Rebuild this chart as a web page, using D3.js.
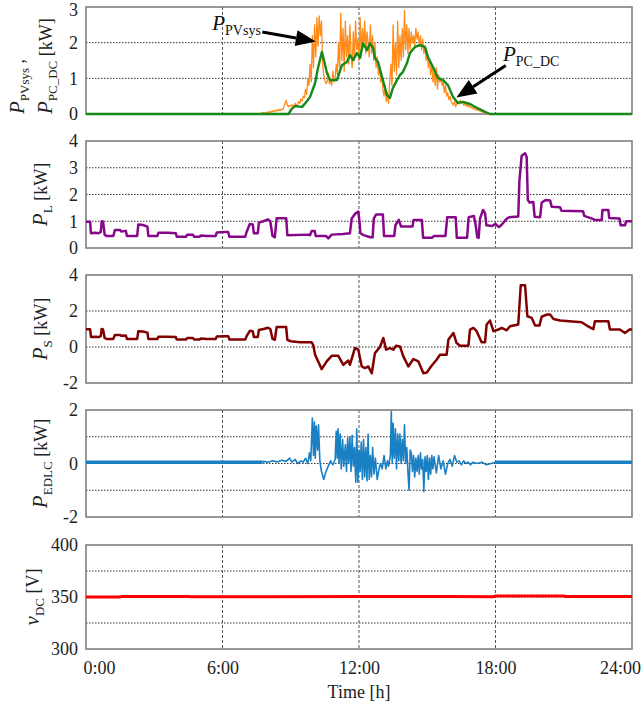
<!DOCTYPE html>
<html>
<head>
<meta charset="utf-8">
<script src="https://cdn.jsdelivr.net/npm/d3@7"></script>
<style>
  body { margin: 0; background: #fff; }
  svg { display: block; font-family: "Liberation Serif", "Times New Roman", serif; }
</style>
</head>
<body>
<div id="chart"></div>
<script>
// ---- data ----
const hourTicks = [0, 6, 12, 18, 24];

// P_PVsys : evenly sampled every 0.05 h starting at 7.6 h
const pvStart = 7.6, pvStep = 0.05;
const pvValues = [
  0,0.01,0.03,0.02,0.04,0.02,0.05,0.03,0.06,0.04,
  0.07,0.05,0.09,0.06,0.1,0.08,0.12,0.09,0.13,0.1,
  0.14,0.12,0.2,0.3,0.38,0.25,0.2,0.24,0.22,0.26,
  0.2,0.25,0.3,0.22,0.27,0.35,0.3,0.42,0.36,0.5,
  0.45,0.7,0.55,1.0,0.8,1.4,0.9,2.2,1.3,2.5,
  1.6,2.7,1.9,2.75,2.2,2.6,1.4,1.1,0.95,0.85,
  0.9,1.15,0.85,0.95,0.8,1.2,0.9,1.0,1.4,1.1,
  2.0,1.3,2.83,1.5,2.4,1.2,2.6,1.6,2.2,1.4,
  2.5,1.7,1.3,2.3,1.5,2.6,1.8,2.1,1.5,2.7,
  1.6,2.4,1.9,2.6,1.7,2.3,2.0,1.6,2.5,1.7,
  2.2,1.5,2.0,1.3,1.6,1.1,1.3,0.9,1.1,0.7,
  0.5,0.8,0.35,0.6,0.3,0.9,1.4,0.8,2.5,1.2,
  2.0,1.1,2.6,1.3,2.2,1.5,2.4,1.6,2.9,1.8,
  2.5,1.7,2.4,1.8,2.3,2.0,2.2,1.9,2.4,2.1,
  2.3,1.9,2.2,1.8,2.1,1.7,1.9,1.5,1.7,1.3,
  1.5,1.1,1.4,0.9,1.2,0.8,1.3,0.7,1.1,0.9,
  1.0,0.8,0.9,0.6,0.8,0.5,0.6,0.4,0.5,0.35,
  0.3,0.25,0.35,0.2,0.3,0.35,0.28,0.38,0.3,0.33,
  0.25,0.3,0.22,0.28,0.2,0.25,0.18,0.2,0.15,0.17,
  0.12,0.14,0.1,0.11,0.08,0.09,0.06,0.05,0.04,0.02,
  0.01,0,0
];

// P_PC_DC
const pcTime = [0,8.9,9.05,9.2,9.5,9.7,9.85,10.07,10.2,10.37,10.5,10.59,10.73,11.03,11.25,11.47,11.6,11.74,11.91,12.04,12.18,12.35,12.48,12.62,12.7,12.84,13.01,13.23,13.36,13.49,13.67,13.8,13.93,14.11,14.24,14.46,14.68,14.9,15.03,15.25,15.47,15.69,15.91,16.13,16.35,16.57,16.88,17.19,17.54,17.76,24];
const pcValue = [0,0,0.15,0.22,0.2,0.35,0.48,0.87,1.3,1.74,1.4,1.15,0.95,0.95,1.37,1.46,1.65,1.51,1.71,1.57,1.98,1.79,1.98,1.85,1.57,1.46,1.04,0.53,0.45,0.73,0.95,1.09,1.18,1.43,1.71,1.88,1.93,1.88,1.6,1.32,1.01,0.95,0.81,0.48,0.31,0.34,0.28,0.17,0.06,0,0];

// P_L
const loadTime = [0,0.18,0.22,0.4,0.55,0.65,0.69,0.75,0.82,0.9,1.2,1.27,1.5,1.55,1.75,1.8,2.25,2.3,2.5,2.7,2.74,3.14,3.18,3.6,3.95,3.99,4.4,4.45,4.7,4.75,5.0,5.05,5.3,5.7,5.75,6.1,6.25,6.3,7.0,7.06,7.2,7.33,7.38,7.55,7.6,7.8,8.0,8.1,8.2,8.3,8.38,8.8,8.85,9.8,9.85,9.92,10.05,10.1,10.55,10.65,10.8,11.3,11.6,11.68,11.85,11.97,12.02,12.06,12.2,12.5,12.6,12.65,12.75,13.05,13.1,13.55,13.6,13.75,13.85,14.35,14.4,14.76,14.82,15.2,15.3,15.8,15.88,16.25,16.3,16.75,16.82,17.05,17.12,17.2,17.26,17.32,17.45,17.54,17.6,17.85,18.0,18.15,18.25,18.5,18.6,19.0,19.05,19.15,19.3,19.37,19.42,19.5,19.66,19.72,19.96,20.03,20.2,20.4,20.47,20.84,20.9,21.85,21.9,22.3,22.35,22.67,22.7,22.96,23.0,23.45,23.5,23.69,23.75,24];
const loadValue = [0.98,0.98,0.55,0.57,0.55,0.6,1.0,0.98,0.5,0.45,0.45,0.67,0.67,0.62,0.64,0.45,0.45,0.88,0.86,0.8,0.45,0.45,0.57,0.57,0.55,0.42,0.42,0.5,0.5,0.42,0.42,0.47,0.45,0.45,0.58,0.6,0.6,0.42,0.42,0.6,0.9,0.88,0.55,0.55,0.95,1.0,1.07,1.0,0.45,0.4,1.11,1.11,0.48,0.5,0.48,0.64,0.64,0.45,0.45,0.36,0.5,0.52,0.55,1.1,1.3,1.36,1.0,0.55,0.48,0.4,0.4,1.1,1.25,1.25,0.45,0.45,0.85,1.05,0.8,0.8,1.05,1.05,0.38,0.38,0.45,0.45,1.15,1.15,0.38,0.38,1.15,1.2,0.9,0.4,0.38,1.1,1.42,1.3,0.85,0.82,0.9,0.78,0.85,1.1,1.15,1.18,2.5,3.45,3.54,3.4,1.8,1.7,1.72,1.17,1.15,1.7,1.79,1.78,1.54,1.52,1.39,1.37,1.2,1.08,1.05,1.05,1.42,1.42,1.12,1.1,0.85,0.85,1.0,1.0];

// P_S
const storTime = [0,0.18,0.22,0.4,0.55,0.65,0.69,0.75,0.82,0.9,1.2,1.27,1.5,1.55,1.75,1.8,2.25,2.3,2.5,2.7,2.74,3.14,3.18,3.6,3.95,3.99,4.4,4.45,4.7,4.75,5.0,5.05,5.3,5.7,5.75,6.1,6.25,6.3,7.0,7.06,7.2,7.33,7.38,7.55,7.6,7.8,8.0,8.1,8.2,8.3,8.38,8.8,8.85,9.0,9.41,9.92,9.99,10.07,10.36,10.58,10.8,11.09,11.31,11.53,11.6,11.82,11.97,12.12,12.26,12.41,12.56,12.7,12.92,13.07,13.19,13.36,13.51,13.63,13.8,13.95,14.17,14.39,14.61,14.83,14.98,15.19,15.41,15.56,15.85,15.93,16.15,16.29,16.44,16.81,16.88,17.03,17.17,17.39,17.54,17.61,17.76,17.91,18.13,18.27,18.49,18.64,19.0,19.11,19.3,19.4,19.59,19.74,19.93,20.03,20.25,20.4,20.55,20.84,21.79,22.01,22.3,22.37,22.96,23.03,23.47,23.69,23.91,24];
const storValue = [0.98,0.98,0.55,0.57,0.55,0.6,1.0,0.98,0.5,0.45,0.45,0.67,0.67,0.62,0.64,0.45,0.45,0.88,0.86,0.8,0.45,0.45,0.57,0.57,0.55,0.42,0.42,0.5,0.5,0.42,0.42,0.47,0.45,0.45,0.58,0.6,0.6,0.42,0.42,0.6,0.9,0.88,0.55,0.55,0.95,1.0,1.07,1.0,0.45,0.4,1.11,1.11,0.4,0.32,0.26,0.26,0.1,-0.43,-1.23,-0.8,-0.49,-0.49,-0.99,-0.75,-0.99,-0.06,-0.15,-1.08,-1.17,-1.08,-1.46,-0.34,0.0,0.5,-0.15,-0.06,-0.15,0.07,0.03,-0.52,-1.08,-0.67,-0.8,-1.46,-1.42,-1.04,-0.71,-0.43,-0.43,0.41,0.78,0.22,0.07,0.07,0.97,1.06,0.88,0.26,0.26,1.25,1.47,0.88,0.97,1.06,0.93,1.15,1.25,3.43,3.43,1.71,1.62,1.19,1.19,1.68,1.8,1.8,1.56,1.47,1.38,1.19,0.99,1.43,1.43,0.97,0.97,0.78,0.99,0.95];

// P_EDLC
const edlcTime = [0,7.75,7.8,8.0,8.2,8.4,8.6,8.8,8.95,9.05,9.2,9.3,9.45,9.55,9.65,9.75,9.82,9.88,9.95,10.0,10.04,10.08,10.12,10.18,10.22,10.28,10.35,10.45,10.55,10.65,10.75,10.85,10.95,11.0,11.04,11.08,11.12,11.17,11.22,11.28,11.33,11.4,11.45,11.5,11.55,11.6,11.65,11.7,11.75,11.8,11.86,11.9,11.95,12.0,12.05,12.1,12.15,12.2,12.25,12.3,12.35,12.4,12.45,12.5,12.55,12.6,12.66,12.72,12.8,12.88,12.95,13.02,13.1,13.18,13.25,13.3,13.38,13.42,13.46,13.5,13.55,13.6,13.65,13.7,13.75,13.8,13.85,13.9,13.95,14.0,14.05,14.1,14.15,14.2,14.25,14.3,14.35,14.4,14.45,14.5,14.55,14.6,14.65,14.7,14.75,14.8,14.85,14.9,14.95,15.0,15.05,15.1,15.15,15.2,15.25,15.3,15.4,15.5,15.6,15.7,15.8,15.9,16.0,16.1,16.2,16.3,16.4,16.5,16.6,16.7,16.8,16.9,17.0,17.2,17.4,17.6,17.8,18.0,24];
const edlcValue = [0.05,0.05,0.08,0.05,0.1,0.06,0.12,0.08,0.2,0.05,0.15,0.0,0.1,0.05,0.2,0.0,0.4,0.1,1.7,0.3,1.55,0.2,1.4,0.5,1.45,0.1,-0.3,-0.6,-0.3,-0.1,0.1,-0.05,0.15,1.2,0.2,1.3,0.0,1.1,-0.2,0.9,-0.1,0.7,-0.3,0.95,0.0,1.0,-0.3,1.05,-0.1,0.6,-0.7,1.3,-0.7,0.5,-0.3,0.8,-0.6,0.9,-0.5,0.6,-0.65,1.1,-0.6,0.3,-0.5,0.6,-0.4,0.2,-0.6,-0.2,0.0,-0.2,0.3,-0.2,0.1,-0.1,0.3,1.95,0.0,1.5,0.2,1.3,-0.2,1.1,0.1,1.1,0.0,0.9,0.1,1.45,0.0,0.6,-0.3,-1.0,0.5,0.4,-0.3,0.3,-0.5,0.2,-0.3,0.3,-0.4,0.4,-0.2,0.15,-1.05,0.25,-0.3,0.3,-0.6,0.2,-0.4,0.3,-0.2,0.25,-0.35,0.3,-0.2,0.1,-0.4,0.0,0.15,-0.1,0.3,0.05,0.1,-0.05,0.1,0.0,0.05,-0.05,0.05,0.0,0.05,-0.05,0.0,0.05,0.05];

// v_DC
const vdcTime = [0,1.5,1.55,4.5,4.6,6,8,12,14,16,17.9,18.0,21,21.1,24];
const vdcValue = [350,350,350.4,350.5,350.2,350.2,350.3,350.4,350.5,350.4,350.3,350.9,350.9,350.4,350.4];

// ---- layout ----
const W = 642, H = 705;
const left = 86, right = 632;
const font = "Liberation Serif";

const svg = d3.select("#chart").append("svg")
  .attr("width", W).attr("height", H);

const x = d3.scaleLinear().domain([0, 24]).range([left, right]);

const zip = (t, v) => t.map((d, i) => ({ t: d, v: v[i] }));
const pvData = pvValues.map((v, i) => ({ t: pvStart + i * pvStep, v: v }));

const panels = [
  { top: 7, bottom: 114, domain: [0, 3], ticks: [0, 1, 2, 3], grid: [1, 2],
    series: [
      { data: pvData, color: "#ff8c1a", width: 1.3 },
      { data: zip(pcTime, pcValue), color: "#16891a", width: 2.4 }
    ] },
  { top: 141, bottom: 248, domain: [0, 4], ticks: [0, 1, 2, 3, 4], grid: [1, 2, 3],
    label: [["P", "i"], ["L", "s"], [" [kW]", "n"]], labelX: 47,
    series: [{ data: zip(loadTime, loadValue), color: "#87078a", width: 2.5 }] },
  { top: 275, bottom: 383, domain: [-2, 4], ticks: [-2, 0, 2, 4], grid: [0, 2],
    label: [["P", "i"], ["S", "s"], [" [kW]", "n"]], labelX: 47,
    series: [{ data: zip(storTime, storValue), color: "#800000", width: 2.5 }] },
  { top: 410, bottom: 517, domain: [-2, 2], ticks: [-2, 0, 2], grid: [-1, 0, 1],
    label: [["P", "i"], ["EDLC", "s"], [" [kW]", "n"]], labelX: 47,
    series: [
      { data: zip(edlcTime, edlcValue), color: "#1a80c4", width: 1.6 },
      { data: zip(edlcTime, edlcValue).filter(d => d.t <= 7.75), color: "#1a80c4", width: 3.5 },
      { data: zip(edlcTime, edlcValue).filter(d => d.t >= 18), color: "#1a80c4", width: 3.5 }
    ] },
  { top: 545, bottom: 649, domain: [300, 400], ticks: [300, 350, 400], grid: [325, 350, 375],
    label: [["v", "i"], ["DC", "s"], [" [V]", "n"]], labelX: 39,
    series: [{ data: zip(vdcTime, vdcValue), color: "#ff0000", width: 3 }] }
];

// rich label helper: parts = [[text, kind]] kind: i italic, s subscript, n normal
function richText(sel, parts, big, small, normal) {
  let shifted = false;
  parts.forEach(p => {
    const ts = sel.append("tspan").text(p[0]);
    if (p[1] === "i") ts.attr("font-style", "italic").attr("font-size", big);
    if (p[1] === "n") ts.attr("font-size", normal);
    if (p[1] === "s") { ts.attr("font-size", small).attr("dy", 5); shifted = true; }
    else if (shifted) { ts.attr("dy", -5); shifted = false; }
  });
}

panels.forEach((p, k) => {
  const y = d3.scaleLinear().domain(p.domain).range([p.bottom, p.top]);
  const g = svg.append("g");

  // grid
  g.selectAll(".hg").data(p.grid).enter().append("line")
    .attr("x1", left).attr("x2", right)
    .attr("y1", d => y(d)).attr("y2", d => y(d))
    .attr("stroke", "#333").attr("stroke-width", 1).attr("stroke-dasharray", "1.5,1.5");
  g.selectAll(".vg").data([6, 12, 18]).enter().append("line")
    .attr("x1", d => x(d)).attr("x2", d => x(d))
    .attr("y1", p.top).attr("y2", p.bottom)
    .attr("stroke", "#555").attr("stroke-width", 1).attr("stroke-dasharray", "3,2");

  // frame
  g.append("rect")
    .attr("x", left).attr("y", p.top)
    .attr("width", right - left).attr("height", p.bottom - p.top)
    .attr("fill", "none").attr("stroke", "#777").attr("stroke-width", 1.5);

  // y axis labels
  const ax = g.append("g").attr("transform", "translate(" + left + ",0)")
    .call(d3.axisLeft(y).tickValues(p.ticks).tickSize(0).tickPadding(8)
      .tickFormat(d => String(d)));
  ax.select(".domain").remove();
  ax.selectAll("text").attr("font-family", font).attr("font-size", 18).attr("fill", "#222");
  if (k === 0) ax.selectAll("text").filter(d => d === 3).attr("dy", "0.45em");

  // series
  const line = d3.line().x(d => x(d.t)).y(d => y(d.v));
  p.series.forEach(s => {
    g.append("path").datum(s.data)
      .attr("d", line)
      .attr("fill", "none")
      .attr("stroke", s.color)
      .attr("stroke-width", s.width)
      .attr("stroke-linejoin", "round");
  });

  // y title
  if (p.label) {
    const t = g.append("text")
      .attr("transform", "rotate(-90)")
      .attr("x", -(p.top + p.bottom) / 2)
      .attr("y", p.labelX)
      .attr("text-anchor", "middle")
      .attr("font-family", font).attr("fill", "#222");
    richText(t, p.label, 21, 13, 18);
  }

  if (k === panels.length - 1) {
    const xa = g.append("g").attr("transform", "translate(0," + p.bottom + ")")
      .call(d3.axisBottom(x).tickValues(hourTicks).tickSize(0).tickPadding(12)
        .tickFormat(d => d + ":00"));
    xa.select(".domain").remove();
    xa.selectAll("text").attr("font-family", font).attr("font-size", 18).attr("fill", "#222");
    xa.selectAll("text").filter(d => d === 0).attr("dx", 13);
    xa.selectAll("text").filter(d => d === 24).attr("dx", -12);
  }
});

// first panel: two-line y title
const p1 = panels[0];
const t1 = svg.append("text").attr("transform", "rotate(-90)")
  .attr("x", -p1.bottom).attr("y", 24).attr("text-anchor", "start")
  .attr("font-family", font).attr("fill", "#222");
richText(t1, [["P", "i"], ["PVsys", "s"], [" ,", "n"]], 21, 13, 18);
const t2 = svg.append("text").attr("transform", "rotate(-90)")
  .attr("x", -p1.bottom).attr("y", 52).attr("text-anchor", "start")
  .attr("font-family", font).attr("fill", "#222");
richText(t2, [["P", "i"], ["PC_DC", "s"], [" [kW]", "n"]], 21, 13, 18);

// annotations in panel 1 (data coords)
const y1 = d3.scaleLinear().domain(p1.domain).range([p1.bottom, p1.top]);
const notes = [
  { text: "PVsys", tx: 5.55, ty: 2.35, from: [7.75, 2.3], to: [10.1, 2.03] },
  { text: "PC_DC", tx: 18.33, ty: 1.5, from: [18.45, 1.36], to: [16.28, 0.46] }
];

notes.forEach(n => {
  const t = svg.append("text").attr("x", x(n.tx)).attr("y", y1(n.ty))
    .attr("font-family", font).attr("fill", "#111");
  richText(t, [["P", "i"], [n.text, "s"]], 21, 14, 18);
  const x0 = x(n.from[0]), yA = y1(n.from[1]);
  const x1 = x(n.to[0]), yB = y1(n.to[1]);
  const ang = Math.atan2(yB - yA, x1 - x0);
  const len = 20, half = 8;
  const bx = x1 - len * Math.cos(ang), by = yB - len * Math.sin(ang);
  svg.append("line")
    .attr("x1", x0).attr("y1", yA).attr("x2", bx).attr("y2", by)
    .attr("stroke", "#000").attr("stroke-width", 3);
  svg.append("path")
    .attr("d", "M" + x1 + "," + yB +
      "L" + (bx - half * Math.sin(ang)) + "," + (by + half * Math.cos(ang)) +
      "L" + (bx + half * Math.sin(ang)) + "," + (by - half * Math.cos(ang)) + "Z")
    .attr("fill", "#000");
});

// x title
svg.append("text").attr("x", (left + right) / 2).attr("y", 698)
  .attr("text-anchor", "middle").attr("font-family", font)
  .attr("font-size", 18).attr("fill", "#222").text("Time [h]");
</script>
</body>
</html>
